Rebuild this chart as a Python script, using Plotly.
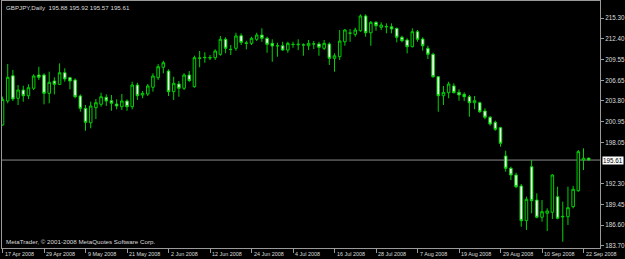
import pandas as pd
import plotly.graph_objects as go

# Daily GBPJPY bars, 17 Apr 2008 .. 23 Sep 2008 (business days)
dates = [d.strftime("%Y-%m-%d") for d in pd.bdate_range("2008-04-17", "2008-09-23")]

opens = [200.47, 203.80, 207.30, 204.17, 205.32, 204.53, 205.56, 207.40, 207.40, 204.86,
         206.57, 206.11, 207.72, 207.03, 206.71, 204.49, 202.78, 200.78, 202.87, 203.34,
         204.31, 203.84, 203.38, 203.01, 203.80, 203.01, 206.01, 204.63, 204.77, 205.70,
         207.03, 208.47, 207.95, 205.09, 206.15, 205.56, 207.40, 205.78, 209.70, 209.80,
         209.82, 209.80, 210.27, 212.35, 210.96, 211.10, 212.85, 211.78, 211.79, 212.35,
         212.94, 212.49, 211.79, 211.44, 211.46, 210.86, 211.65, 211.60, 211.55, 211.46,
         211.70, 211.70, 211.10, 211.70, 209.71, 209.94, 212.01, 213.18, 213.04, 213.54,
         215.58, 213.26, 214.70, 214.01, 214.07, 214.09, 213.87, 212.63, 212.25, 211.32,
         213.40, 212.39, 211.10, 210.27, 207.16, 204.53, 204.95, 205.88, 205.00, 204.72,
         204.39, 203.56, 203.56, 202.41, 201.54, 200.84, 200.10, 196.17, 194.47, 193.54,
         192.02, 187.21, 194.69, 190.07, 187.68, 188.23, 188.37, 190.53, 187.72, 187.76,
         189.15, 191.36, 195.62, 195.88]
highs = [204.40, 208.92, 208.09, 206.01, 205.92, 206.11, 207.50, 208.55, 207.63, 207.86,
         207.08, 209.02, 208.33, 207.16, 206.94, 204.72, 203.24, 203.70, 204.07, 204.95,
         204.72, 204.63, 204.03, 204.77, 204.03, 206.47, 206.33, 205.18, 206.15, 207.64,
         208.92, 209.38, 208.19, 207.16, 206.57, 207.64, 207.95, 210.08, 210.73, 210.55,
         210.17, 210.96, 212.81, 212.63, 211.56, 213.26, 213.18, 212.15, 212.71, 213.26,
         213.87, 212.71, 212.35, 211.88, 212.01, 212.01, 212.01, 212.35, 211.79, 212.25,
         212.11, 212.01, 212.25, 211.93, 210.41, 213.64, 213.78, 213.78, 213.96, 215.81,
         215.81, 214.88, 214.88, 214.70, 214.56, 214.56, 213.96, 212.85, 212.49, 213.87,
         213.64, 212.63, 211.46, 210.49, 207.26, 205.88, 206.47, 206.25, 205.42, 205.00,
         204.63, 204.49, 203.70, 202.78, 201.72, 201.07, 200.23, 196.91, 194.69, 193.86,
         192.29, 190.53, 195.62, 190.99, 190.07, 188.92, 193.64, 191.92, 189.84, 191.92,
         192.02, 197.00, 197.24, 195.92]
lows = [200.40, 203.48, 203.80, 203.24, 203.70, 204.07, 205.32, 206.71, 203.34, 203.48,
        204.72, 206.01, 206.47, 205.42, 204.17, 202.31, 199.68, 200.01, 201.30, 203.00,
        203.10, 202.45, 202.64, 202.55, 202.45, 202.64, 203.94, 204.17, 204.49, 205.09,
        206.71, 207.64, 204.49, 203.94, 204.39, 205.32, 206.47, 205.64, 208.47, 209.10,
        209.47, 209.48, 210.07, 210.41, 210.17, 210.77, 211.56, 210.96, 211.56, 212.11,
        212.01, 210.49, 209.24, 209.94, 210.77, 210.49, 211.18, 210.86, 210.07, 210.86,
        211.00, 210.07, 210.86, 208.79, 207.86, 209.48, 211.46, 212.01, 212.71, 213.40,
        212.71, 211.46, 213.54, 213.64, 213.18, 213.18, 211.93, 211.93, 210.41, 211.24,
        212.01, 210.77, 209.62, 207.03, 202.31, 203.24, 204.17, 204.86, 203.84, 203.80,
        201.62, 202.65, 202.17, 201.26, 200.37, 199.68, 197.46, 194.00, 192.85, 191.70,
        186.37, 185.92, 188.23, 187.54, 187.07, 185.78, 187.44, 187.40, 184.29, 186.61,
        188.92, 191.22, 194.23, 195.57]
closes = [204.00, 207.08, 204.07, 205.32, 204.53, 205.64, 207.26, 207.08, 204.86, 206.39,
          206.11, 207.72, 206.85, 206.57, 204.39, 202.78, 200.84, 203.10, 203.56, 204.39,
          203.80, 203.48, 203.10, 203.80, 203.01, 206.01, 204.53, 204.86, 205.88, 207.26,
          208.55, 209.10, 205.09, 206.25, 205.56, 207.40, 206.61, 209.80, 209.76, 209.84,
          209.78, 210.73, 212.35, 211.10, 210.93, 212.81, 211.93, 211.84, 212.49, 212.94,
          212.49, 211.65, 211.42, 211.46, 210.86, 211.79, 211.63, 211.66, 211.57, 211.79,
          211.72, 211.24, 211.79, 209.71, 210.07, 212.11, 213.64, 213.22, 213.64, 215.58,
          213.26, 214.70, 214.23, 214.33, 214.13, 213.78, 212.63, 212.15, 211.32, 213.40,
          212.35, 211.46, 210.27, 207.16, 204.53, 205.00, 206.15, 204.95, 204.63, 204.39,
          203.56, 203.84, 202.31, 201.54, 200.61, 199.87, 197.93, 194.47, 193.54, 191.92,
          187.21, 190.17, 189.98, 187.68, 188.45, 188.55, 193.54, 187.54, 187.80, 189.01,
          191.56, 196.77, 195.86, 195.61]

date_ticks = ["2008-04-17", "2008-04-29", "2008-05-09", "2008-05-21", "2008-06-02",
              "2008-06-12", "2008-06-24", "2008-07-04", "2008-07-16", "2008-07-28",
              "2008-08-07", "2008-08-19", "2008-08-29", "2008-09-10", "2008-09-22"]
date_labels = ["17 Apr 2008", "29 Apr 2008", "9 May 2008", "21 May 2008", "2 Jun 2008",
               "12 Jun 2008", "24 Jun 2008", "4 Jul 2008", "16 Jul 2008", "28 Jul 2008",
               "7 Aug 2008", "19 Aug 2008", "29 Aug 2008", "10 Sep 2008", "22 Sep 2008"]
price_ticks = [215.30, 212.40, 209.55, 206.65, 203.80, 200.95, 198.05,
               192.30, 189.45, 186.60, 183.70]
last_price = 195.61
header = "GBPJPY,Daily\u00a0\u00a0195.88 195.92 195.57 195.61"
footer = "MetaTrader, \u00a9 2001-2008 MetaQuotes Software Corp."

GREEN = "#00d200"
FRAME = "#9a9a9a"
TXT = "#dcdcdc"
FONT = "Liberation Sans"
FS = 6.2
FS_DATE = 5.4
FS_PRICE = 6.3

fig = go.Figure(go.Candlestick(
    x=dates, open=opens, high=highs, low=lows, close=closes,
    increasing=dict(line=dict(color=GREEN, width=1), fillcolor="black"),
    decreasing=dict(line=dict(color=GREEN, width=1), fillcolor="white"),
    whiskerwidth=0, hoverinfo="skip", showlegend=False,
))

annotations = []
for d, lab in zip(date_ticks, date_labels):
    annotations.append(dict(x=d, xref="x", y=0, yref="paper", yanchor="top", xanchor="left",
                            xshift=0, yshift=-1, text=lab, showarrow=False,
                            font=dict(family=FONT, size=FS_DATE, color=TXT)))
annotations.append(dict(x=0, xref="paper", y=1, yref="paper", xanchor="left", yanchor="top",
                        xshift=2, yshift=-1, text=header, showarrow=False,
                        font=dict(family=FONT, size=FS, color=TXT)))
annotations.append(dict(x=0, xref="paper", y=0, yref="paper", xanchor="left", yanchor="bottom",
                        xshift=2, yshift=1, text=footer, showarrow=False,
                        font=dict(family=FONT, size=FS, color=TXT)))
annotations.append(dict(x=1, xref="paper", y=last_price, yref="y", xanchor="left", yanchor="middle",
                        xshift=2, text=f"{last_price:.2f}", showarrow=False, bgcolor="white",
                        borderpad=0, font=dict(family=FONT, size=FS_PRICE, color="black")))

fig.update_layout(
    width=625, height=259,
    margin=dict(l=2, r=25, t=1, b=11),
    paper_bgcolor="black", plot_bgcolor="black",
    showlegend=False,
    boxgap=0.3,
    xaxis=dict(type="category", range=[-0.1, 115.18], rangeslider=dict(visible=False),
               showgrid=False, zeroline=False, showline=True, mirror=True, linecolor=FRAME,
               linewidth=1, ticks="outside", ticklen=4, tickcolor=FRAME,
               tickvals=date_ticks, showticklabels=False),
    yaxis=dict(side="right", range=[183.42, 217.66], showgrid=False, zeroline=False,
               showline=True, mirror=True, linecolor=FRAME, linewidth=1,
               ticks="outside", ticklen=3, tickcolor=FRAME, tickvals=price_ticks,
               tickformat=".2f", tickfont=dict(family=FONT, size=FS_PRICE, color=TXT)),
    shapes=[dict(type="line", xref="paper", x0=0, x1=1, yref="y", y0=last_price, y1=last_price,
                 line=dict(color="#8a8a8a", width=1), layer="below")],
    annotations=annotations,
)

fig.write_html("out.html")
